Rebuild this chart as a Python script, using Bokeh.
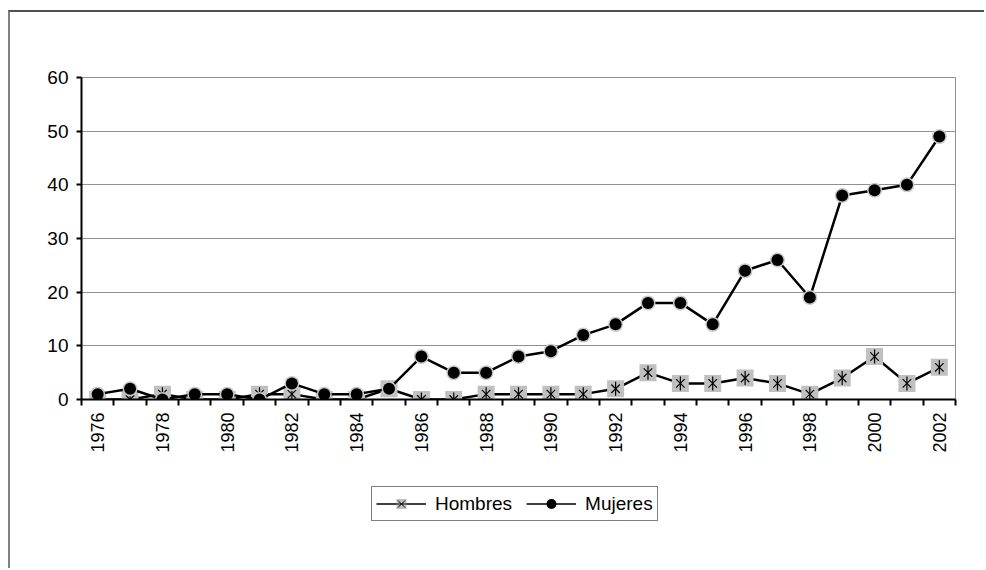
from bokeh.plotting import figure
from bokeh.models import FixedTicker, Legend, LegendItem, ColumnDataSource, Range1d
from bokeh.layouts import column
from bokeh.embed import file_html
from bokeh.resources import INLINE
import math

years = list(range(1976, 2003))
hombres = [0, 0, 1, 0, 0, 1, 1, 0, 0, 2, 0, 0, 1, 1, 1, 1, 2, 5, 3, 3, 4, 3, 1, 4, 8, 3, 6]
mujeres = [1, 2, 0, 1, 1, 0, 3, 1, 1, 2, 8, 5, 5, 8, 9, 12, 14, 18, 18, 14, 24, 26, 19, 38, 39, 40, 49]
y_ticks = [0, 10, 20, 30, 40, 50, 60]
x_label_years = years[::2]
series_names = ["Hombres", "Mujeres"]

FONT = "Liberation Sans"
src = ColumnDataSource(dict(x=years, h=hombres, m=mujeres))

p = figure(width=974, height=458, output_backend="svg", toolbar_location=None,
           x_range=Range1d(years[0] - 0.5, years[-1] + 0.5), y_range=Range1d(0, 60),
           min_border_left=71, min_border_top=65, min_border_right=29, min_border_bottom=71)
p.background_fill_color = "white"
p.border_fill_color = "white"
p.outline_line_color = "#909090"
p.outline_line_width = 1

# axes
p.xaxis.ticker = FixedTicker(ticks=x_label_years,
                             minor_ticks=[y - 0.5 for y in years] + [years[-1] + 0.5])
p.xaxis.major_label_overrides = {y: str(y) for y in x_label_years}
p.xaxis.major_label_orientation = math.pi / 2
p.xaxis.major_tick_out = 0
p.xaxis.major_tick_in = 0
p.xaxis.minor_tick_out = 6
p.xaxis.minor_tick_in = 0
p.xaxis.minor_tick_line_color = "black"
p.xaxis.minor_tick_line_width = 2
p.xaxis.axis_line_color = "black"
p.xaxis.axis_line_width = 2
p.xaxis.major_label_text_font = FONT
p.xaxis.major_label_text_font_size = "18px"
p.xaxis.major_label_text_color = "black"
p.xaxis.major_label_standoff = 7

p.yaxis.ticker = FixedTicker(ticks=y_ticks, minor_ticks=[])
p.yaxis.major_tick_out = 5
p.yaxis.major_tick_in = 0
p.yaxis.major_tick_line_width = 2
p.yaxis.major_tick_line_color = "black"
p.yaxis.axis_line_color = "black"
p.yaxis.axis_line_width = 2
p.yaxis.major_label_text_font = FONT
p.yaxis.major_label_text_font_size = "19px"
p.yaxis.major_label_text_color = "black"
p.yaxis.major_label_standoff = 8

p.xgrid.visible = False
p.ygrid.ticker = FixedTicker(ticks=y_ticks[1:])
p.ygrid.grid_line_color = "#909090"
p.ygrid.grid_line_width = 1

# Hombres
p.line("x", "h", source=src, line_color="black", line_width=2.5)
p.scatter("x", "h", source=src, marker="square", size=17, fill_color="#c0c0c0", line_color=None)
p.scatter("x", "h", source=src, marker="x", size=12, line_color="black", line_width=1.2)
p.scatter("x", "h", source=src, marker="dash", angle=math.pi / 2, size=14, line_color="black", line_width=1.2)

# Mujeres
p.line("x", "m", source=src, line_color="black", line_width=2.5)
p.scatter("x", "m", source=src, marker="circle", size=15, fill_color="#c8c8c8", line_color=None)
p.scatter("x", "m", source=src, marker="circle", size=12, fill_color="black", line_color=None)

# legend panel (separate figure below the chart); its sample glyphs sit outside its visible range
lg = figure(width=974, height=98, output_backend="svg", toolbar_location=None,
            x_axis_type=None, y_axis_type=None, x_range=Range1d(0, 1), y_range=Range1d(0, 1),
            min_border=0)
lg.outline_line_color = None
lg.xgrid.visible = False
lg.ygrid.visible = False
lg.background_fill_color = "white"
lg.border_fill_color = "white"
off = ColumnDataSource(dict(x=[-5, -4], y=[-5, -4]))
lh_line = lg.line("x", "y", source=off, line_color="black", line_width=1.5)
lh_sq = lg.scatter("x", "y", source=off, marker="square", fill_color="#c0c0c0", line_color=None)
lh_x = lg.scatter("x", "y", source=off, marker="x", line_color="black", line_width=1)
lh_d = lg.scatter("x", "y", source=off, marker="dash", angle=math.pi / 2, line_color="black", line_width=1)
lm_line = lg.line("x", "y", source=off, line_color="black", line_width=1.5)
lm_dot = lg.scatter("x", "y", source=off, marker="circle", fill_color="black", line_color=None)

legend = Legend(items=[
    LegendItem(label=series_names[0], renderers=[lh_line, lh_sq, lh_x, lh_d]),
    LegendItem(label=series_names[1], renderers=[lm_line, lm_dot]),
], orientation="horizontal", location=(290, 47))
legend.label_text_font = FONT
legend.label_text_font_size = "19px"
legend.label_text_color = "black"
legend.border_line_color = "black"
legend.border_line_width = 1
legend.background_fill_color = "white"
legend.glyph_width = 50
legend.glyph_height = 25
legend.padding = 4
legend.spacing = 14
legend.label_standoff = 9
legend.margin = 0
lg.add_layout(legend, "center")

layout = column(p, lg, spacing=0,
                styles={"border-left": "2px solid #808080", "border-top": "2px solid #505050",
                        "margin-left": "8px", "margin-top": "10px"})

open("out.html", "w").write(file_html(layout, INLINE))
